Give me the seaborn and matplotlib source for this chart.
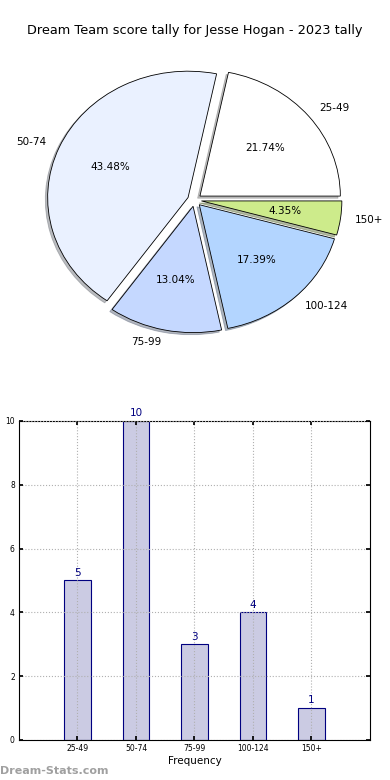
import matplotlib
matplotlib.use("Agg")
import matplotlib.pyplot as plt
import seaborn as sns
import pandas as pd

categories = ["25-49", "50-74", "75-99", "100-124", "150+"]
counts = [5, 10, 3, 4, 1]
pie_colors = ["#ffffff", "#eaf1ff", "#c5d8ff", "#b3d5ff", "#cdeb8b"]
title = "Dream Team score tally for Jesse Hogan - 2023 tally"

sns.set_theme(style="white")
plt.rcParams['font.family'] = ['DejaVu Sans']
plt.rcParams['text.color'] = 'black'
plt.rcParams['axes.labelcolor'] = 'black'
plt.rcParams['xtick.color'] = 'black'
plt.rcParams['ytick.color'] = 'black'

fig = plt.figure(figsize=(3.9, 7.8), dpi=100)

# Pie
axp = fig.add_axes([0.0487, 0.541, 0.9, 0.405])
axp.pie(counts, labels=categories, colors=pie_colors, autopct="%.2f%%",
        explode=[0.05] * len(counts),
        shadow=dict(ox=-0.012, oy=-0.012, shade=0.5),
        startangle=0,
        wedgeprops=dict(edgecolor="black", linewidth=0.6),
        textprops=dict(fontsize=7.5, color="black"))
axp.set_aspect("auto")
axp.set_xlim(-1.25, 1.25)
axp.set_ylim(-1.25, 1.25)
fig.text(0.5, 0.961, title, ha="center", va="center", fontsize=9.3, color="black")

# Bars
axb = fig.add_axes([0.0487, 0.0513, 0.9, 0.409])
df = pd.DataFrame({"Frequency": categories, "Tally": counts})
sns.barplot(data=df, x="Frequency", y="Tally", ax=axb, color="#cbcbe3",
            edgecolor="#000080", linewidth=0.8, width=0.45, saturation=1)
axb.set_xlim(-1, 5)
axb.set_ylim(0, 10)
axb.set_yticks([0, 2, 4, 6, 8, 10])
axb.grid(True, linestyle=":", color="#b0b0b0", linewidth=0.8)
axb.set_axisbelow(False)
for c in axb.containers:
    axb.bar_label(c, padding=2, color="#000080", fontsize=7.5, clip_on=False)
axb.tick_params(axis="both", labelsize=5.5, direction="in", length=3,
                top=True, right=True, bottom=True, left=True, pad=3)
for s in axb.spines.values():
    s.set_visible(True)
    s.set_color("black")
    s.set_linewidth(0.8)
axb.set_xlabel("Frequency", fontsize=7.5, labelpad=2)
axb.set_ylabel("Dream Team Tally", fontsize=7.5, labelpad=6)

fig.text(0.0, 0.012, "Dream-Stats.com", ha="left", va="center", fontsize=8,
         color="#a0a0a0", fontweight="semibold")

fig.savefig("out.png", dpi=100)
